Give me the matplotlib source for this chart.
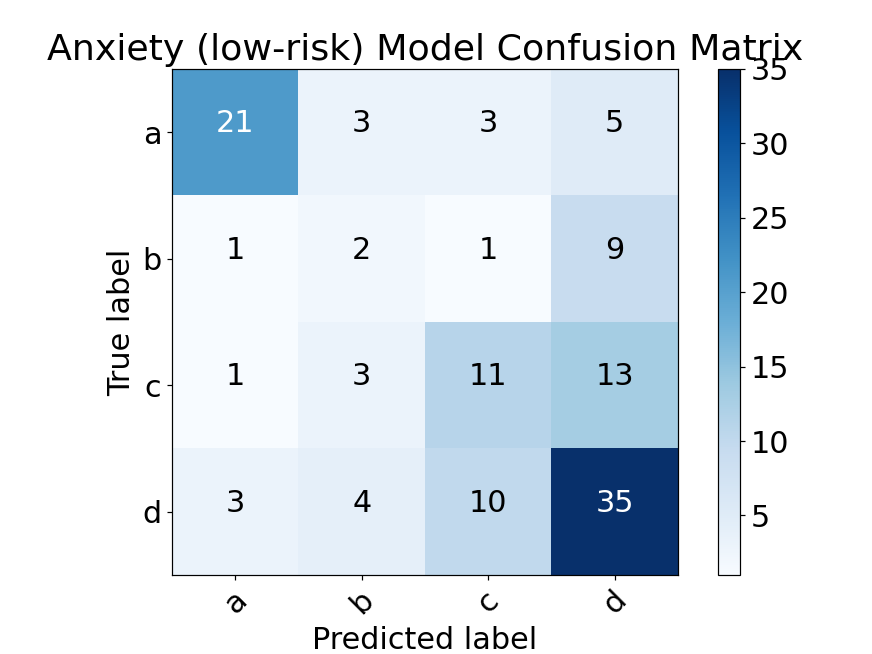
import numpy as np
import matplotlib
matplotlib.use('Agg')
import matplotlib.pyplot as plt

classes = ['a', 'b', 'c', 'd']
cm = np.array([[21, 3, 3, 5],
               [1, 2, 1, 9],
               [1, 3, 11, 13],
               [3, 4, 10, 35]])
title = 'Anxiety (low-risk) Model Confusion Matrix'

plt.rcParams['font.size'] = 20

fig = plt.figure(figsize=(8, 6), dpi=109)
ax = fig.add_axes([172/872, (654-575)/654, 506/872, 506/654])
cax = fig.add_axes([718/872, (654-575)/654, 22/872, 506/654])

im = ax.imshow(cm, interpolation='nearest', cmap=plt.cm.Blues)
ax.set_title(title)
fig.colorbar(im, cax=cax)
tick_marks = np.arange(len(classes))
ax.set_xticks(tick_marks)
ax.set_xticklabels(classes, rotation=45)
ax.set_yticks(tick_marks)
ax.set_yticklabels(classes)

thresh = cm.max() / 2.
for i in range(cm.shape[0]):
    for j in range(cm.shape[1]):
        ax.text(j, i, format(cm[i, j], 'd'),
                horizontalalignment="center",
                color="white" if cm[i, j] > thresh else "black")

ax.set_ylabel('True label')
ax.set_xlabel('Predicted label')
fig.savefig('out.png', dpi=109)
